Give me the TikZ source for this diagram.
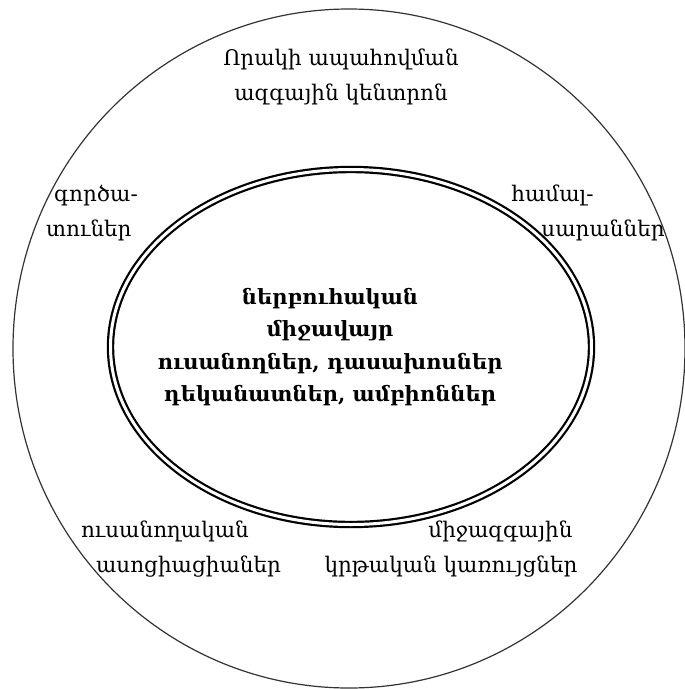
\documentclass[tikz,border=0pt]{standalone}
\usepackage{fontspec}
\setmainfont{DejaVu Serif}
\usetikzlibrary{positioning, shapes.geometric}

\begin{document}
\begin{tikzpicture}[x=1pt, y=-1pt,
    outer/.style={draw=black!80, line width=1.2pt},
    inner/.style={draw=black, double=white, line width=2.2pt, double distance=3pt},
    lbl/.style={font=\fontsize{21.5}{34.5}\selectfont, inner sep=0pt},
    core/.style={font=\fontsize{21}{32.5}\selectfont\bfseries, inner sep=0pt, align=center}
]
    \useasboundingbox (0, 0) rectangle (685, 689);
    % circles
    \node[outer, ellipse, minimum width=672pt, minimum height=679pt] (ring) at (349, 348.5) {};
    \node[inner, ellipse, minimum width=481pt, minimum height=355pt] (env) at (351, 347) {};
    % centre
    \node[core] (mid) at (330, 347) {ներբուհական\\միջավայր\\ուսանողներ, դասախոսներ\\դեկանատներ, ամբիոններ};
    % around
    \node[lbl, align=center] (nac) at (341, 77) {Որակի ապահովման\\ազգային կենտրոն};
    \node[lbl, align=left] (emp) at (92, 213) {\hspace*{8pt}գործա-\\տուներ};
    \node[lbl, align=left] (uni) at (588, 213) {համալ-\\\hspace*{30pt}սարաններ};
    \node[lbl, align=left] (stu) at (181, 549) {ուսանողական\\\hspace*{15pt}ասոցիացիաներ};
    \node[lbl, align=right] (int) at (451, 549) {միջազգային\hspace*{5pt}\\կրթական կառույցներ};
\end{tikzpicture}
\end{document}
